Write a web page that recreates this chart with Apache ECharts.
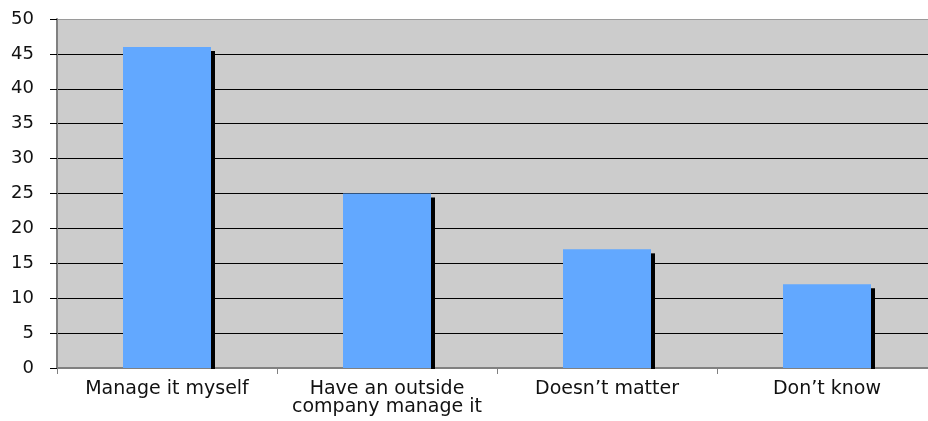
<!DOCTYPE html>
<html>
<head>
<meta charset="utf-8">
<script src="https://cdn.jsdelivr.net/npm/echarts@6/dist/echarts.min.js"></script>
<style>
html,body{margin:0;padding:0;background:#fff;overflow:hidden;}
#chart{width:937px;height:421px;}
</style>
</head>
<body>
<div id="chart"></div>
<script>
const categories = ['Manage it myself', 'Have an outside\ncompany manage it', 'Doesn\u2019t matter', 'Don\u2019t know'];
const values = [46, 25, 17, 12];
const yTicks = [0, 5, 10, 15, 20, 25, 30, 35, 40, 45, 50];

const gridColors = yTicks.map((v, i) => i === yTicks.length - 1 ? '#9a9a9a' : '#000');
const BAR_RATIO = 0.4;

const chart = echarts.init(document.getElementById('chart'), null, {renderer: 'canvas'});
chart.setOption({
  animation: false,
  grid: {left: 57, top: 19, bottom: 53, right: 0, show: true, backgroundColor: '#cccccc', borderWidth: 0},
  xAxis: {
    type: 'category',
    data: categories,
    boundaryGap: true,
    axisLine: {show: true, lineStyle: {color: '#808080', width: 2}},
    axisTick: {show: true, length: 6, lineStyle: {color: '#808080'}},
    axisLabel: {color: '#111', fontFamily: 'DejaVu Sans', fontSize: 19, margin: 12, lineHeight: 18, interval: 0}
  },
  yAxis: {
    type: 'value',
    min: 0, max: 50, interval: 5,
    axisLine: {show: true, lineStyle: {color: '#808080', width: 2}},
    axisTick: {show: true, length: 7, lineStyle: {color: '#000'}},
    axisLabel: {color: '#111', fontFamily: 'DejaVu Sans', fontSize: 18, margin: 23},
    splitLine: {show: true, lineStyle: {color: gridColors, width: 1}}
  },
  series: [{
    type: 'custom',
    data: values.map((v, i) => [i, v]),
    z: 1,
    renderItem: function (params, api) {
      const top = api.coord([api.value(0), api.value(1)]);
      const base = api.coord([api.value(0), 0]);
      const band = api.size([1, 0])[0];
      const bw = band * BAR_RATIO;
      return {
        type: 'rect',
        shape: {x: top[0] + bw / 2, y: top[1] + 4, width: 4, height: base[1] - top[1] - 3},
        style: {fill: '#000'}
      };
    }
  }, {
    type: 'bar',
    data: values,
    barWidth: (BAR_RATIO * 100) + '%',
    z: 2,
    itemStyle: {color: '#62a8ff'}
  }]
});
</script>
</body>
</html>
